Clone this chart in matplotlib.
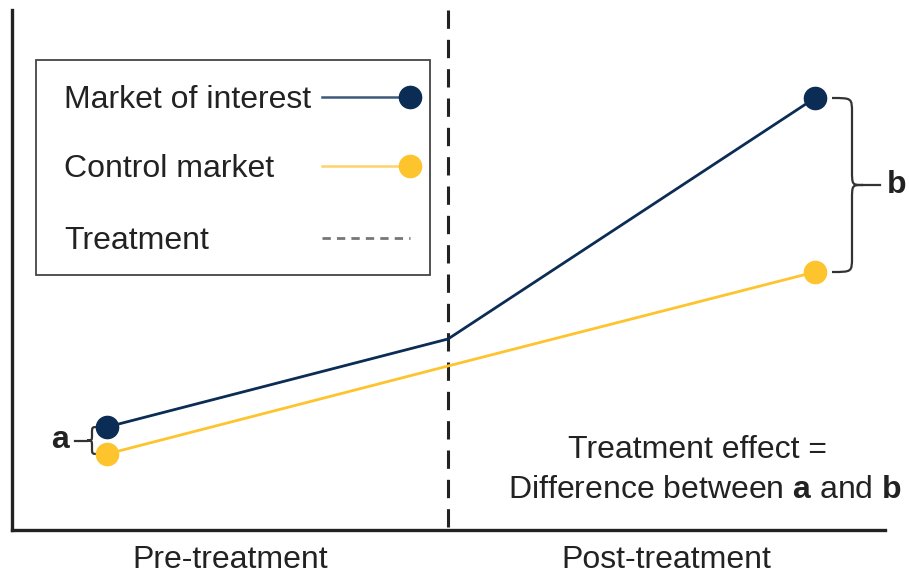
"""difference-in-differences illustration: market of interest vs control market"""

import numpy as np
import matplotlib.pyplot as plt
from matplotlib.path import Path
from matplotlib.patches import PathPatch, Rectangle
from matplotlib.lines import Line2D

plt.rcParams['font.family'] = ['Liberation Sans', 'DejaVu Sans']
plt.rcParams['mathtext.fontset'] = 'custom'
plt.rcParams['mathtext.rm'] = 'Liberation Sans'
plt.rcParams['mathtext.bf'] = 'Liberation Sans:bold'

# time axis: pre-treatment, treatment, post-treatment
period_x = [0.95, 4.36, 8.03]
treatment_x = 4.36
interest_y = [1.03, 1.91, 4.32]
control_y = [0.76, 1.64, 2.58]
period_labels = ['Pre-treatment', 'Post-treatment']
legend_labels = ['Market of interest', 'Control market', 'Treatment']

NAVY = '#0b2c55'
GOLD = '#fec42d'
INK = '#222222'
FS = 23


def brace(ax, x0, arm, tip, y_top, y_bot, tail, radius):
    """curly brace whose arms start at x0; negative arm/tip point it left"""
    x1 = x0 + arm
    x2 = x1 + tip
    ym = (y_top + y_bot) / 2
    verts = [
        (x0, y_top), (x1, y_top), (x1, y_top), (x1, y_top - radius),
        (x1, ym + radius),
        (x1, ym), (x1, ym), (x2, ym),
        (x1, ym), (x1, ym), (x1, ym - radius),
        (x1, y_bot + radius),
        (x1, y_bot), (x1, y_bot), (x0, y_bot),
    ]
    codes = [Path.MOVETO] + [Path.CURVE4] * 3 + [Path.LINETO] + [Path.CURVE4] * 6 \
        + [Path.LINETO] + [Path.CURVE4] * 3
    ax.add_patch(PathPatch(Path(verts, codes), fill=False, ec='#333333', lw=1.6,
                           clip_on=False, zorder=1))
    ax.plot([x2, x2 + tail], [ym, ym], color='#333333', lw=1.6, clip_on=False, zorder=1)
    return x2 + tail, ym


fig = plt.figure(figsize=(9.09, 5.79), dpi=100)
ax = fig.add_axes([12 / 909, 49 / 579, 873 / 909, 520 / 579])
ax.set_xlim(0, 8.73)
ax.set_ylim(0, 5.2)

ax.plot(period_x, interest_y, color=NAVY, lw=2.0, zorder=3)
ax.plot(period_x, control_y, color=GOLD, lw=2.0, zorder=2)
ax.plot(period_x[::2], interest_y[::2], 'o', color=NAVY, ms=16, zorder=4)
ax.plot(period_x[::2], control_y[::2], 'o', color=GOLD, ms=16, zorder=4)
# drawn top-down so the dash pattern starts at the top of the axes
ax.plot([treatment_x, treatment_x], [5.2, 0], color=INK, lw=2.2,
        ls=(0, (6, 3.6)), zorder=1)

# braces marking the gap before and after treatment
ex, ey = brace(ax, period_x[0] - 0.09, -0.06, -0.05, interest_y[0], control_y[0],
               -0.12, 0.06)
ax.text(ex - 0.06, ey, 'a', ha='right', va='center', fontsize=FS, fontweight='bold',
        color=INK)
ex, ey = brace(ax, period_x[2] + 0.17, 0.2, 0.11, interest_y[2], control_y[2],
               0.17, 0.15)
ax.text(ex + 0.07, ey, 'b', ha='left', va='center', fontsize=FS, fontweight='bold',
        color=INK, clip_on=False)

ax.text(6.86, 0.80, 'Treatment effect =', ha='center', va='center', fontsize=FS,
        color=INK)
ax.text(6.93, 0.40, r'Difference between $\mathbf{a}$ and $\mathbf{b}$', ha='center',
        va='center', fontsize=FS, color=INK, clip_on=False)

# hand-built legend box
ax.add_patch(Rectangle((0.24, 2.55), 3.94, 2.15, fill=False, ec='#444444', lw=1.3,
                       zorder=5))
rows_y = [4.33, 3.64, 2.92]
for label, y in zip(legend_labels, rows_y):
    ax.text(0.52, y - 0.03, label, ha='left', va='center', fontsize=FS, color=INK,
            zorder=6)
ax.add_line(Line2D([3.10, 3.98], [rows_y[0]] * 2, color='#3d5a7c', lw=1.8,
                   marker='o', markevery=[1], ms=16, mfc=NAVY, mec=NAVY, zorder=6))
ax.add_line(Line2D([3.10, 3.98], [rows_y[1]] * 2, color='#fdd36a', lw=1.8,
                   marker='o', markevery=[1], ms=16, mfc=GOLD, mec=GOLD, zorder=6))
ax.add_line(Line2D([3.10, 3.98], [rows_y[2]] * 2, color='#777777', lw=2.0,
                   ls=(0, (3, 2.2)), zorder=6))

ax.set_xticks([treatment_x / 2, (treatment_x + 8.73) / 2])
ax.set_xticklabels(period_labels, fontsize=FS, color=INK)
ax.tick_params(axis='x', length=0, pad=11)
ax.set_yticks([])
for side in ['top', 'right']:
    ax.spines[side].set_visible(False)
for side in ['left', 'bottom']:
    ax.spines[side].set_color(INK)
    ax.spines[side].set_linewidth(2.4)

fig.savefig('out.png', dpi=100)
